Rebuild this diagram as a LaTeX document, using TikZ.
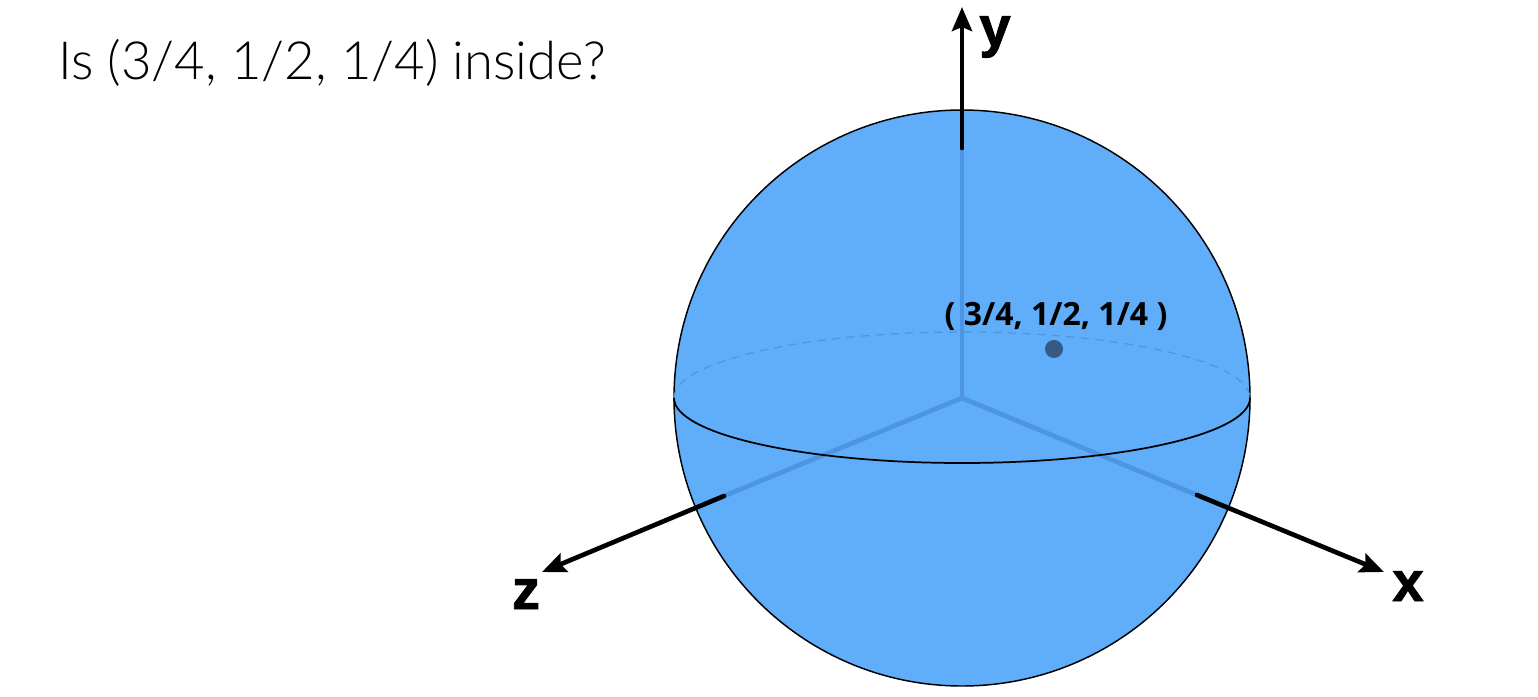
\documentclass[tikz,border=0pt]{standalone}
\usepackage{fontspec}
\setmainfont{Lato Light}
\newfontfamily\labelfont[FakeBold=1.6]{Liberation Sans Bold}
\newfontfamily\pointfont{Open Sans Bold}
\usetikzlibrary{arrows.meta}
\definecolor{ballblue}{HTML}{60ADFA}
\definecolor{axisblue}{HTML}{4D95E0}
\definecolor{pointblue}{HTML}{345A85}
\definecolor{dashblue}{HTML}{4D95E0}
\tikzset{
  ball/.style={circle,draw=black,line width=1.1pt,fill=ballblue,minimum size=432pt,inner sep=0pt},
  inneraxis/.style={draw=axisblue,line width=3.5pt},
  outeraxis/.style={draw=black,line width=3.5pt,line cap=round,-{Stealth[length=18pt,width=15pt,inset=3pt]}},
  axislabel/.style={font=\labelfont\fontsize{42pt}{42pt}\selectfont,text=black,inner sep=0pt},
  pointdot/.style={circle,fill=pointblue,minimum size=13.5pt,inner sep=0pt},
}
\begin{document}
\begin{tikzpicture}[x=0.75pt,y=-0.75pt]
\useasboundingbox (0,0) rectangle (1538,696);
\node[ball] (sphere) at (962,398) {};
\coordinate (o) at (962,398);
\coordinate (ys) at (962,148);
\coordinate (ye) at (962,7);
\coordinate (xs) at (1197,495);
\coordinate (xe) at (1384,572);
\coordinate (zs) at (724,496);
\coordinate (ze) at (542,572);
\draw[dashblue,line width=0.9pt,dash pattern=on 6pt off 5pt] (674,398) arc[start angle=180,end angle=360,x radius=288,y radius=66];
\draw[inneraxis] (o) -- (ys);
\draw[inneraxis] (o) -- (xs);
\draw[inneraxis] (o) -- (zs);
\draw[black,line width=1.3pt] (674,398) arc[start angle=180,end angle=0,x radius=288,y radius=65];
\draw[outeraxis] (ys) -- (ye);
\draw[outeraxis] (xs) -- (xe);
\draw[outeraxis] (zs) -- (ze);
\node[axislabel,anchor=base] (ylab) at (995,46) {y};
\node[axislabel,anchor=base] (xlab) at (1408,601) {x};
\node[axislabel,anchor=base] (zlab) at (526,609) {z};
\node[pointdot] (pt) at (1054,349) {};
\node[font=\pointfont\fontsize{24pt}{24pt}\selectfont,anchor=base,inner sep=0pt] (ptlab) at (1056,325) {( 3/4, 1/2, 1/4 )};
\node[font=\fontsize{39.5pt}{39.5pt}\selectfont,anchor=base west,inner sep=0pt] (title) at (58,79) {Is (3/4, 1/2, 1/4) inside?};
\end{tikzpicture}
\end{document}
